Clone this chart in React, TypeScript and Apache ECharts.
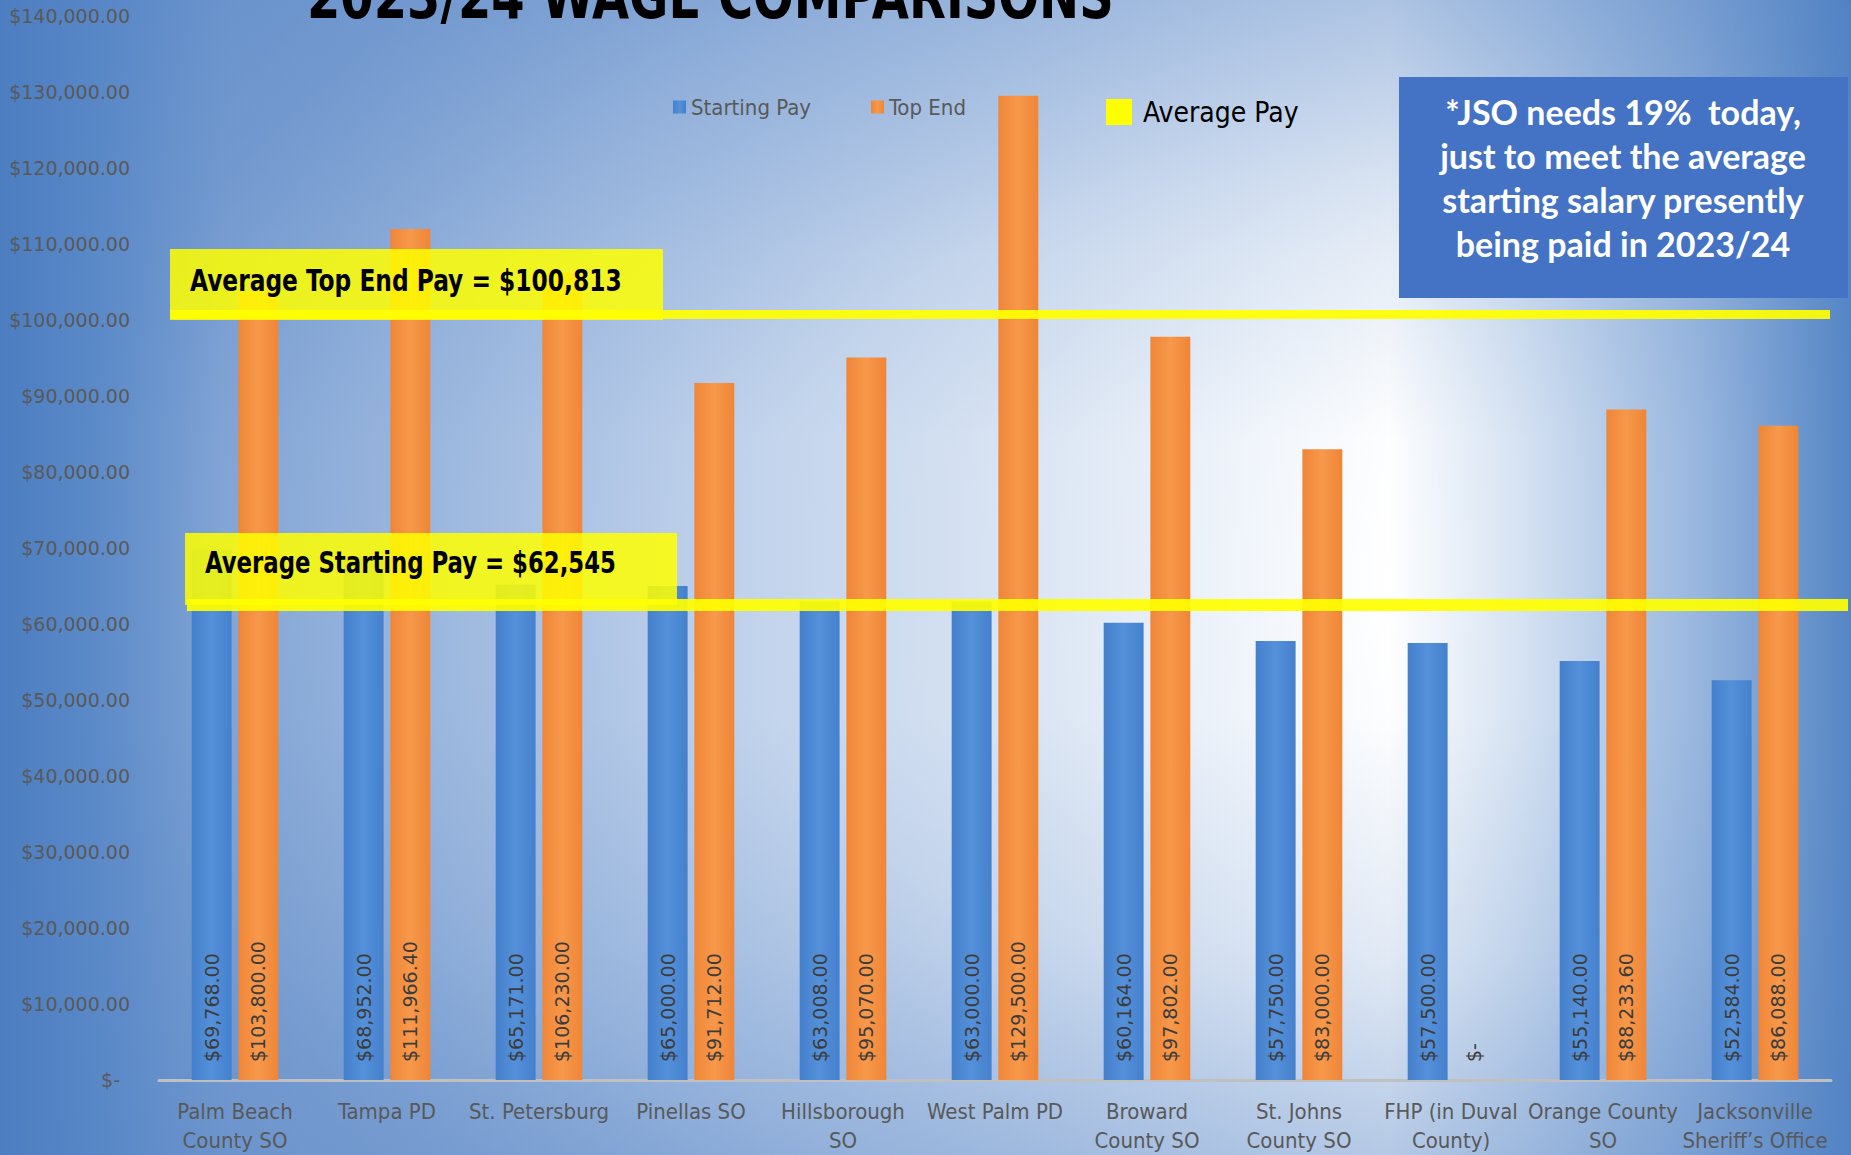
import React, { useEffect, useRef } from "react";
import * as echarts from "echarts";

const categories = [
  "Palm Beach\nCounty SO",
  "Tampa PD",
  "St. Petersburg",
  "Pinellas SO",
  "Hillsborough\nSO",
  "West Palm PD",
  "Broward\nCounty SO",
  "St. Johns\nCounty SO",
  "FHP (in Duval\nCounty)",
  "Orange County\nSO",
  "Jacksonville\nSheriff\u2019s Office",
];
const startingPay = [69768, 68952, 65171, 65000, 63008, 63000, 60164, 57750, 57500, 55140, 52584];
const topEnd = [103800, 111966.4, 106230, 91712, 95070, 129500, 97802, 83000, 0, 88233.6, 86088];
const averageTopEnd = 100813;
const averageStarting = 62545;
const yMax = 140000;
const yInterval = 10000;

const TITLE = "2023/24 WAGE COMPARISONS";
const NOTE = [
  "*JSO needs 19%  today,",
  "just to meet the average",
  "starting salary presently",
  "being paid in 2023/24",
];

const money = (v: number) =>
  v === 0
    ? "$-"
    : "$" + v.toLocaleString("en-US", { minimumFractionDigits: 2, maximumFractionDigits: 2 });

const NARROW = "'Liberation Sans Narrow', 'DejaVu Sans Condensed', 'Liberation Sans', sans-serif";
const WIDE = "'DejaVu Sans', sans-serif";

export default function App() {
  const ref = useRef<HTMLDivElement>(null);
  useEffect(() => {
    if (!ref.current) return;
    const chart = echarts.init(ref.current, undefined, { renderer: "svg" });
    const barLabel = {
      show: true,
      position: "insideBottom",
      rotate: 90,
      align: "left",
      verticalAlign: "middle",
      distance: 18,
      color: "#3c3c3c",
      fontSize: 19,
      fontFamily: WIDE,
      formatter: (p: any) => money(p.value),
    };
    const blue = new echarts.graphic.LinearGradient(0, 0, 1, 0, [
      { offset: 0, color: "#4480cc" },
      { offset: 0.5, color: "#5590da" },
      { offset: 1, color: "#4480cc" },
    ]);
    const orange = new echarts.graphic.LinearGradient(0, 0, 1, 0, [
      { offset: 0, color: "#ef8537" },
      { offset: 0.5, color: "#f7984a" },
      { offset: 1, color: "#ef8537" },
    ]);
    chart.setOption({
      animation: false,
      graphic: [
        {
          type: "rect",
          z: -100,
          silent: true,
          shape: { x: 0, y: 0, width: 1851, height: 1155 },
          style: {
            fill: new echarts.graphic.LinearGradient(0, 0, 1, 0, [
              { offset: 0, color: "#4d7fc1" },
              { offset: 0.06, color: "#6a96cf" },
              { offset: 0.12, color: "#93b1db" },
              { offset: 0.35, color: "#bccfea" },
              { offset: 0.55, color: "#dce6f4" },
              { offset: 0.7, color: "#f6f9fd" },
              { offset: 0.75, color: "#ffffff" },
              { offset: 0.82, color: "#d8e4f3" },
              { offset: 0.92, color: "#98b6de" },
              { offset: 1, color: "#5586c5" },
            ]),
          },
        },
        {
          type: "rect",
          z: -99,
          silent: true,
          shape: { x: 0, y: 0, width: 1851, height: 1155 },
          style: {
            fill: new echarts.graphic.RadialGradient(0.73, 0.5, 0.7, [
              { offset: 0, color: "rgba(70,120,190,0)" },
              { offset: 0.5, color: "rgba(70,120,190,0.03)" },
              { offset: 0.8, color: "rgba(70,120,190,0.16)" },
              { offset: 1, color: "rgba(70,120,190,0.32)" },
            ]),
          },
        },
        {
          type: "rect",
          z: -98,
          silent: true,
          shape: { x: 0, y: 0, width: 1851, height: 1155 },
          style: {
            fill: new echarts.graphic.LinearGradient(0, 0, 0, 1, [
              { offset: 0, color: "rgba(80,128,195,0.38)" },
              { offset: 0.22, color: "rgba(80,128,195,0.12)" },
              { offset: 0.38, color: "rgba(80,128,195,0)" },
              { offset: 0.62, color: "rgba(80,128,195,0)" },
              { offset: 0.82, color: "rgba(80,128,195,0.14)" },
              { offset: 1, color: "rgba(80,128,195,0.34)" },
            ]),
          },
        },
        {
          type: "text",
          z: 50,
          x: 307,
          y: -3,
          scaleX: 0.86,
          style: {
            text: TITLE,
            fill: "#000000",
            font: `bold 62px ${NARROW}`,
            align: "left",
            verticalAlign: "middle",
          },
        },
        {
          type: "rect",
          z: 60,
          shape: { x: 170, y: 249, width: 493, height: 71 },
          style: { fill: "rgba(255,255,0,0.85)" },
        },
        {
          type: "text",
          z: 61,
          x: 190,
          y: 281,
          scaleX: 0.865,
          style: {
            text: "Average Top End Pay = $100,813",
            fill: "#000000",
            font: `bold 30px ${NARROW}`,
            align: "left",
            verticalAlign: "middle",
          },
        },
        {
          type: "rect",
          z: 60,
          shape: { x: 185, y: 533, width: 492, height: 72 },
          style: { fill: "rgba(255,255,0,0.85)" },
        },
        {
          type: "text",
          z: 61,
          x: 205,
          y: 563,
          scaleX: 0.845,
          style: {
            text: "Average Starting Pay = $62,545",
            fill: "#000000",
            font: `bold 30px ${NARROW}`,
            align: "left",
            verticalAlign: "middle",
          },
        },
        {
          type: "rect",
          z: 60,
          shape: { x: 1399, y: 77, width: 449, height: 221 },
          style: { fill: "#4472c4" },
        },
        ...NOTE.map((t, i) => ({
          type: "text",
          z: 61,
          x: 1623,
          y: 111 + i * 44,
          style: {
            text: t,
            fill: "#ffffff",
            font: `bold 34px Lato, 'Open Sans', sans-serif`,
            align: "center",
            verticalAlign: "middle",
          },
        })),
      ],
      legend: [
        {
          left: 668,
          top: 91,
          itemWidth: 13,
          itemHeight: 13,
          itemGap: 60,
          icon: "rect",
          data: ["Starting Pay", "Top End"],
          textStyle: { color: "#595959", fontSize: 22, fontFamily: NARROW },
        },
        {
          left: 1101,
          top: 93,
          itemWidth: 26,
          itemHeight: 26,
          icon: "rect",
          data: ["Average Pay"],
          textStyle: { color: "#000000", fontSize: 28, fontFamily: NARROW, padding: [0, 0, 0, 6] },
        },
      ],
      grid: { left: 159, right: 20, top: 16, bottom: 73, containLabel: false },
      xAxis: {
        type: "category",
        data: categories,
        axisLine: { show: true, lineStyle: { color: "#c0c0c0", width: 3 } },
        axisTick: { show: false },
        axisLabel: {
          interval: 0,
          color: "#595959",
          fontSize: 22,
          fontFamily: NARROW,
          lineHeight: 29,
          margin: 17,
        },
      },
      yAxis: {
        type: "value",
        min: 0,
        max: yMax,
        interval: yInterval,
        splitLine: { show: false },
        axisLine: { show: false },
        axisTick: { show: false },
        axisLabel: {
          color: "#595959",
          fontSize: 19,
          fontFamily: WIDE,
          margin: 29,
          formatter: (v: number) => (v === 0 ? "{z|$-}" : money(v)),
          rich: { z: { color: "#595959", fontSize: 19, fontFamily: WIDE, padding: [0, 10, 0, 0] } },
        },
      },
      series: [
        {
          name: "Starting Pay",
          type: "bar",
          data: startingPay,
          barGap: "17%",
          barCategoryGap: "43%",
          itemStyle: { color: blue },
          label: barLabel,
          z: 2,
        },
        {
          name: "Top End",
          type: "bar",
          data: topEnd,
          itemStyle: { color: orange },
          label: barLabel,
          z: 2,
        },
        {
          name: "Average Pay",
          type: "line",
          data: categories.map(() => null),
          symbol: "none",
          itemStyle: { color: "#ffff00" },
          lineStyle: { color: "#ffff00" },
          z: 5,
          markLine: {
            silent: true,
            symbol: ["none", "none"],
            label: { show: false },
            lineStyle: { color: "rgba(255,255,0,0.92)", width: 10, type: "solid" },
            data: [
              [
                { x: 170, yAxis: averageTopEnd, lineStyle: { width: 9 } },
                { x: 1830, yAxis: averageTopEnd },
              ],
              [
                { x: 187, yAxis: averageStarting, lineStyle: { width: 12 } },
                { x: 1848, yAxis: averageStarting },
              ],
            ],
          },
        },
      ],
    });
    return () => chart.dispose();
  }, []);
  return <div ref={ref} style={{ width: 1851, height: 1155, position: "absolute", left: 0, top: 0 }} />;
}
